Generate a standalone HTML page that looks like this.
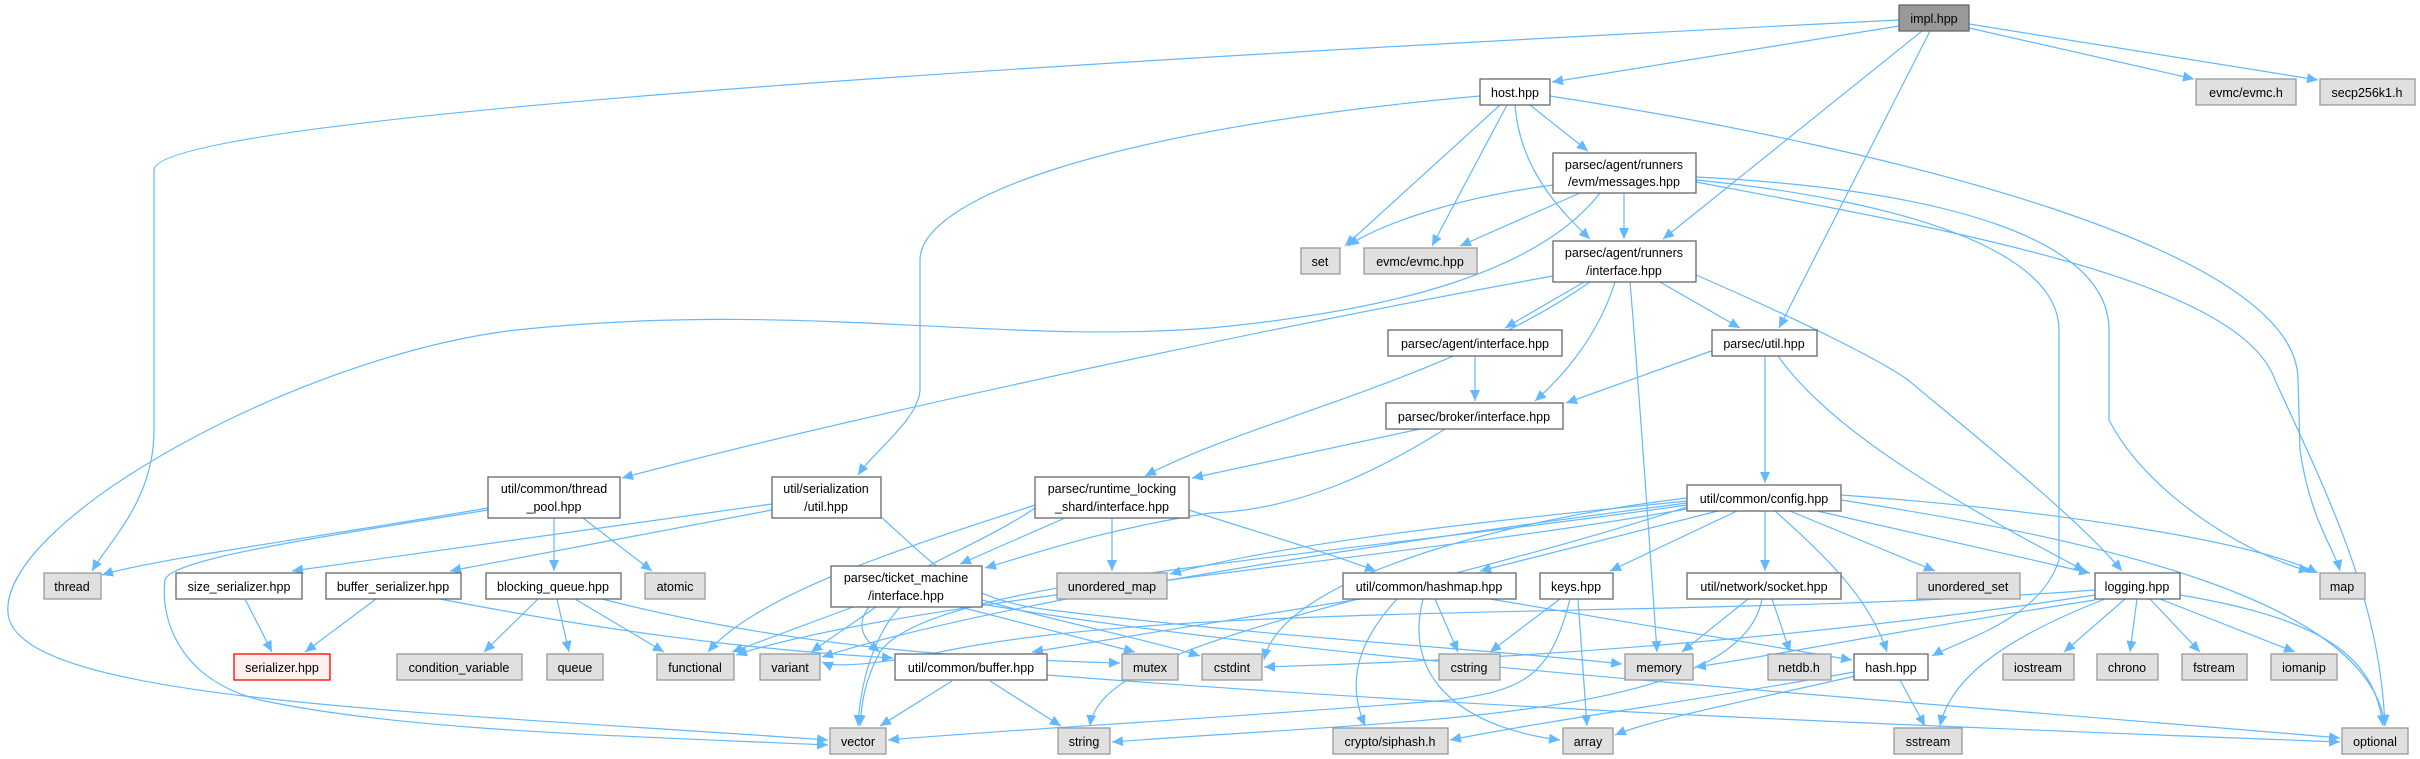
<!DOCTYPE html>
<html><head><meta charset="utf-8"><style>
html,body{margin:0;padding:0;background:#fff;}
svg{display:block;}
text{font-family:"Liberation Sans",Arial,sans-serif;font-size:12.5px;fill:#000;text-anchor:middle;}
.e{fill:none;stroke:#63b8ff;stroke-width:1.2;marker-end:url(#a);}
.w{fill:#fff;stroke:#666;stroke-width:1.3;}
.g{fill:#e0e0e0;stroke:#999;stroke-width:1.3;}
</style></head><body>
<svg width="2420" height="759" viewBox="0 0 2420 759" xmlns="http://www.w3.org/2000/svg">
<defs><marker id="a" markerUnits="userSpaceOnUse" markerWidth="12" markerHeight="10" refX="11" refY="5" orient="auto"><path d="M0,0 L11,5 L0,10 z" fill="#63b8ff"/></marker></defs>
<g>
<path class="e" d="M1899,20 C1300,50 154,110 154,170 L154,430 C154,500 110,540 92,571"/>
<path class="e" d="M1899,26 L1552,82"/>
<path class="e" d="M1922,31 L1663,239"/>
<path class="e" d="M1930,31 L1779,328"/>
<path class="e" d="M1969,28 L2194,79"/>
<path class="e" d="M1969,24 L2318,80"/>
<path class="e" d="M1480,96 C1100,130 920,200 920,260 L920,390 C918,420 875,450 858,475"/>
<path class="e" d="M1500,105 L1345,246"/>
<path class="e" d="M1507,105 L1432,246"/>
<path class="e" d="M1515,105 C1520,170 1560,210 1590,239"/>
<path class="e" d="M1530,105 L1588,151"/>
<path class="e" d="M1550,96 C1900,150 2298,250 2298,380 L2300,450 C2310,520 2335,550 2340,571"/>
<path class="e" d="M1553,185 C1440,200 1370,230 1348,246"/>
<path class="e" d="M1580,193 L1460,246"/>
<path class="e" d="M1624,193 L1624,239"/>
<path class="e" d="M1600,193 C1540,270 1400,310 1210,328 C1000,345 800,300 516,330 C300,355 0,520 8,613 C15,700 400,710 828,740"/>
<path class="e" d="M1696,180 C1900,200 2059,250 2059,330 L2059,560 C2040,620 1960,640 1932,656"/>
<path class="e" d="M1696,177 C1950,190 2109,240 2109,330 L2109,420 C2150,500 2260,560 2310,571"/>
<path class="e" d="M1696,182 C1950,230 2240,280 2275,380 C2330,500 2380,600 2385,726"/>
<path class="e" d="M1553,276 C1200,340 800,430 622,478"/>
<path class="e" d="M1590,282 C1450,380 1250,420 1145,476"/>
<path class="e" d="M1584,282 L1505,328"/>
<path class="e" d="M1615,282 C1600,330 1570,370 1535,401"/>
<path class="e" d="M1630,282 C1640,400 1650,550 1657,652"/>
<path class="e" d="M1660,282 L1740,328"/>
<path class="e" d="M1696,275 C1800,320 1880,360 1908,380 C1980,440 2080,520 2122,571"/>
<path class="e" d="M1765,356 L1765,483"/>
<path class="e" d="M1714,350 L1566,403"/>
<path class="e" d="M1778,356 C1830,430 1950,500 2085,571"/>
<path class="e" d="M1475,356 L1475,401"/>
<path class="e" d="M1420,429 L1192,478"/>
<path class="e" d="M1445,429 C1380,470 1300,510 1210,513 C1100,530 1030,555 985,568"/>
<path class="e" d="M1189,510 C1250,530 1320,550 1376,571"/>
<path class="e" d="M1065,518 L960,564"/>
<path class="e" d="M1112,518 L1112,571"/>
<path class="e" d="M1035,505 C930,540 760,590 708,652"/>
<path class="e" d="M1035,508 C960,560 810,600 880,652"/>
<path class="e" d="M853,607 L732,652"/>
<path class="e" d="M876,607 L811,652"/>
<path class="e" d="M960,607 L1135,652"/>
<path class="e" d="M982,600 C1050,620 1150,640 1200,656"/>
<path class="e" d="M982,604 C1300,660 1900,700 2340,738"/>
<path class="e" d="M900,607 C870,640 860,690 858,726"/>
<path class="e" d="M488,508 C300,540 150,560 102,575"/>
<path class="e" d="M488,510 C300,540 170,560 165,580 C160,620 180,680 260,700 C400,730 600,735 828,745"/>
<path class="e" d="M554,518 L554,571"/>
<path class="e" d="M583,518 L652,571"/>
<path class="e" d="M772,504 L292,571"/>
<path class="e" d="M772,510 L450,571"/>
<path class="e" d="M881,517 C930,560 960,600 1050,610 C1300,640 1500,650 1622,664"/>
<path class="e" d="M245,599 L272,652"/>
<path class="e" d="M376,599 L305,652"/>
<path class="e" d="M440,599 C600,630 750,650 893,658"/>
<path class="e" d="M538,599 L484,652"/>
<path class="e" d="M557,599 L569,652"/>
<path class="e" d="M575,599 L664,652"/>
<path class="e" d="M602,599 C800,650 1000,660 1120,663"/>
<path class="e" d="M952,681 L880,726"/>
<path class="e" d="M990,681 L1061,726"/>
<path class="e" d="M1047,675 C1500,710 1900,725 2340,742"/>
<path class="e" d="M1687,501 C1500,520 1300,540 1170,574"/>
<path class="e" d="M1687,503 C1400,540 1000,600 822,657"/>
<path class="e" d="M1687,505 C1300,560 930,580 880,652 C865,680 862,700 860,726"/>
<path class="e" d="M1687,507 C1400,600 1100,640 1090,726"/>
<path class="e" d="M1687,509 C1400,560 900,600 736,655"/>
<path class="e" d="M1718,511 L1480,571"/>
<path class="e" d="M1737,511 L1610,571"/>
<path class="e" d="M1765,511 L1765,571"/>
<path class="e" d="M1790,511 L1935,571"/>
<path class="e" d="M1817,511 L2090,573"/>
<path class="e" d="M1775,511 C1830,560 1870,600 1887,652"/>
<path class="e" d="M1841,495 C2050,510 2250,540 2318,573"/>
<path class="e" d="M1841,500 C2100,540 2370,600 2385,726"/>
<path class="e" d="M1687,498 C1500,520 1280,580 1264,660"/>
<path class="e" d="M1397,599 C1350,650 1350,690 1365,726"/>
<path class="e" d="M1423,599 C1400,690 1480,730 1560,740"/>
<path class="e" d="M1435,599 L1458,652"/>
<path class="e" d="M1490,599 L1852,660"/>
<path class="e" d="M1360,599 L1032,652"/>
<path class="e" d="M1560,599 L1490,652"/>
<path class="e" d="M1578,599 L1587,726"/>
<path class="e" d="M1570,599 C1550,680 1520,690 1450,700 C1200,720 1000,730 888,740"/>
<path class="e" d="M1748,599 L1682,652"/>
<path class="e" d="M1772,599 L1790,652"/>
<path class="e" d="M1762,599 C1740,720 1400,720 1112,742"/>
<path class="e" d="M2095,595 C1800,640 1500,660 1264,667"/>
<path class="e" d="M2095,600 C1900,630 1750,660 1695,667"/>
<path class="e" d="M2095,590 C1700,620 1200,600 950,650 C900,660 840,670 822,662"/>
<path class="e" d="M2125,599 L2064,652"/>
<path class="e" d="M2137,599 L2130,652"/>
<path class="e" d="M2150,599 L2200,652"/>
<path class="e" d="M2160,599 L2295,652"/>
<path class="e" d="M2105,599 C2000,640 1950,680 1940,726"/>
<path class="e" d="M2180,595 C2330,620 2375,660 2383,726"/>
<path class="e" d="M1854,672 C1700,700 1550,720 1450,740"/>
<path class="e" d="M1860,675 C1750,700 1650,720 1615,735"/>
<path class="e" d="M1900,680 L1925,726"/>
</g>
<g>
<rect x="1899" y="5" width="70" height="26" fill="#999" stroke="#666" stroke-width="1.3"/><text x="1934" y="23">impl.hpp</text>
<rect class="w" x="1480" y="79" width="70" height="26"/><text x="1515" y="97">host.hpp</text>
<rect class="g" x="2196" y="79" width="100" height="26"/><text x="2246" y="97">evmc/evmc.h</text>
<rect class="g" x="2320" y="79" width="95" height="26"/><text x="2367" y="97">secp256k1.h</text>
<rect class="w" x="1553" y="153" width="143" height="40"/><text x="1624" y="169">parsec/agent/runners</text><text x="1624" y="186">/evm/messages.hpp</text>
<rect class="g" x="1301" y="248" width="39" height="26"/><text x="1320" y="266">set</text>
<rect class="g" x="1364" y="248" width="113" height="26"/><text x="1420" y="266">evmc/evmc.hpp</text>
<rect class="w" x="1553" y="241" width="143" height="41"/><text x="1624" y="257">parsec/agent/runners</text><text x="1624" y="275">/interface.hpp</text>
<rect class="w" x="1388" y="330" width="174" height="26"/><text x="1475" y="348">parsec/agent/interface.hpp</text>
<rect class="w" x="1712" y="330" width="105" height="26"/><text x="1764" y="348">parsec/util.hpp</text>
<rect class="w" x="1386" y="403" width="177" height="26"/><text x="1474" y="421">parsec/broker/interface.hpp</text>
<rect class="w" x="1687" y="485" width="154" height="26"/><text x="1764" y="503">util/common/config.hpp</text>
<rect class="w" x="488" y="477" width="132" height="41"/><text x="554" y="493">util/common/thread</text><text x="554" y="511">_pool.hpp</text>
<rect class="w" x="772" y="477" width="109" height="41"/><text x="826" y="493">util/serialization</text><text x="826" y="511">/util.hpp</text>
<rect class="w" x="1035" y="477" width="154" height="41"/><text x="1112" y="493">parsec/runtime_locking</text><text x="1112" y="511">_shard/interface.hpp</text>
<rect class="g" x="44" y="573" width="57" height="26"/><text x="72" y="591">thread</text>
<rect class="w" x="176" y="573" width="126" height="26"/><text x="239" y="591">size_serializer.hpp</text>
<rect class="w" x="326" y="573" width="135" height="26"/><text x="393" y="591">buffer_serializer.hpp</text>
<rect class="w" x="486" y="573" width="135" height="26"/><text x="553" y="591">blocking_queue.hpp</text>
<rect class="g" x="645" y="573" width="60" height="26"/><text x="675" y="591">atomic</text>
<rect class="w" x="831" y="566" width="151" height="41"/><text x="906" y="582">parsec/ticket_machine</text><text x="906" y="600">/interface.hpp</text>
<rect class="g" x="1057" y="573" width="110" height="26"/><text x="1112" y="591">unordered_map</text>
<rect class="w" x="1343" y="573" width="173" height="26"/><text x="1429" y="591">util/common/hashmap.hpp</text>
<rect class="w" x="1540" y="573" width="73" height="26"/><text x="1576" y="591">keys.hpp</text>
<rect class="w" x="1687" y="573" width="154" height="26"/><text x="1764" y="591">util/network/socket.hpp</text>
<rect class="g" x="1917" y="573" width="103" height="26"/><text x="1968" y="591">unordered_set</text>
<rect class="w" x="2095" y="573" width="85" height="26"/><text x="2137" y="591">logging.hpp</text>
<rect class="g" x="2320" y="573" width="45" height="26"/><text x="2342" y="591">map</text>
<rect x="234" y="654" width="96" height="26" fill="#fff0f0" stroke="#f00" stroke-width="1.3"/><text x="282" y="672">serializer.hpp</text>
<rect class="g" x="397" y="654" width="125" height="26"/><text x="459" y="672">condition_variable</text>
<rect class="g" x="547" y="654" width="56" height="26"/><text x="575" y="672">queue</text>
<rect class="g" x="657" y="654" width="77" height="26"/><text x="695" y="672">functional</text>
<rect class="g" x="760" y="654" width="60" height="26"/><text x="790" y="672">variant</text>
<rect class="w" x="895" y="654" width="152" height="26"/><text x="971" y="672">util/common/buffer.hpp</text>
<rect class="g" x="1122" y="654" width="56" height="26"/><text x="1150" y="672">mutex</text>
<rect class="g" x="1202" y="654" width="60" height="26"/><text x="1232" y="672">cstdint</text>
<rect class="g" x="1439" y="654" width="61" height="26"/><text x="1469" y="672">cstring</text>
<rect class="g" x="1625" y="654" width="68" height="26"/><text x="1659" y="672">memory</text>
<rect class="g" x="1768" y="654" width="63" height="26"/><text x="1799" y="672">netdb.h</text>
<rect class="w" x="1854" y="654" width="74" height="26"/><text x="1891" y="672">hash.hpp</text>
<rect class="g" x="2003" y="654" width="71" height="26"/><text x="2038" y="672">iostream</text>
<rect class="g" x="2097" y="654" width="61" height="26"/><text x="2127" y="672">chrono</text>
<rect class="g" x="2182" y="654" width="65" height="26"/><text x="2214" y="672">fstream</text>
<rect class="g" x="2271" y="654" width="66" height="26"/><text x="2304" y="672">iomanip</text>
<rect class="g" x="830" y="728" width="56" height="26"/><text x="858" y="746">vector</text>
<rect class="g" x="1058" y="728" width="52" height="26"/><text x="1084" y="746">string</text>
<rect class="g" x="1333" y="728" width="115" height="26"/><text x="1390" y="746">crypto/siphash.h</text>
<rect class="g" x="1563" y="728" width="50" height="26"/><text x="1588" y="746">array</text>
<rect class="g" x="1894" y="728" width="68" height="26"/><text x="1928" y="746">sstream</text>
<rect class="g" x="2342" y="728" width="66" height="26"/><text x="2375" y="746">optional</text>
</g>
</svg>
</body></html>
